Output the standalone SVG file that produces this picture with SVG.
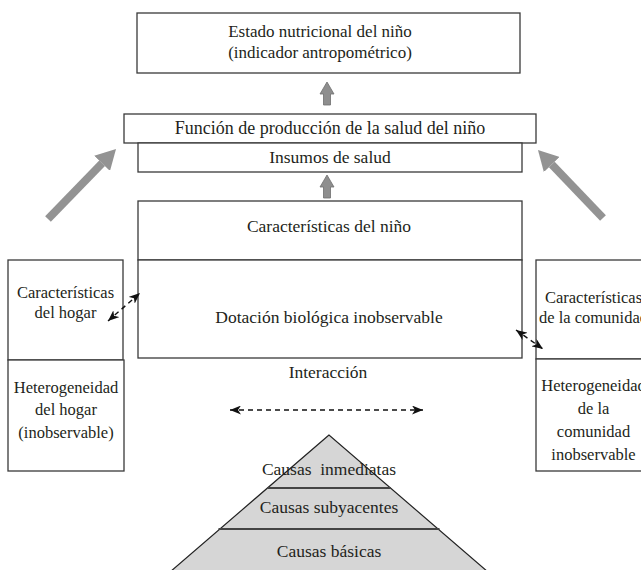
<svg xmlns="http://www.w3.org/2000/svg" width="641" height="570" viewBox="0 0 641 570">
<style>
.box{fill:#fff;stroke:#3a3a3a;stroke-width:1.3}
.t{font-family:"Liberation Serif","Times New Roman",serif;font-size:17.5px;fill:#231f20;text-anchor:middle}
.s{font-size:16.5px}
.big{stroke:#939393;stroke-width:8;fill:none}
.dash{stroke:#111;stroke-width:1.4;stroke-dasharray:5,4;fill:none}
.up{fill:#8e8e8e;stroke:#6f6f6f;stroke-width:0.8}
.pyr{fill:#d6d6d6;stroke:#222;stroke-width:1.2}
.lvl{stroke:#444;stroke-width:2}
</style>
<defs>
<marker id="bighead" markerUnits="userSpaceOnUse" viewBox="0 0 20 22" refX="0" refY="11" markerWidth="20" markerHeight="22" orient="auto">
<path d="M0,0 L20,11 L0,22 z" fill="#939393"/>
</marker>
<marker id="dh" markerUnits="userSpaceOnUse" viewBox="0 0 11 9" refX="11" refY="4.5" markerWidth="11" markerHeight="9" orient="auto-start-reverse">
<path d="M0,0 L11,4.5 L0,9 L3,4.5 z" fill="#111"/>
</marker>
</defs>

<g id="estado">
<rect class="box" x="137" y="13" width="383" height="60"/>
<text class="t" x="320" y="37" style="font-size:17px">Estado nutricional del niño</text>
<text class="t" x="320" y="58" style="font-size:17px">(indicador antropométrico)</text>
</g>

<g id="funcion">
<rect class="box" x="124" y="114" width="412" height="29"/>
<text class="t" x="330" y="134" style="font-size:18px">Función de producción de la salud del niño</text>
</g>

<g id="insumos">
<rect class="box" x="138" y="143" width="384" height="29"/>
<text class="t" x="330" y="163">Insumos de salud</text>
</g>

<g id="nino">
<rect class="box" x="138" y="201" width="384" height="59"/>
<text class="t" x="329" y="232">Características del niño</text>
</g>

<g id="dotacion">
<rect class="box" x="138" y="260" width="384" height="98"/>
<text class="t" x="329" y="323">Dotación biológica inobservable</text>
</g>

<g id="hogar">
<rect class="box" x="8" y="260" width="115" height="100"/>
<text class="t s" x="65.5" y="298">Características</text>
<text class="t s" x="65.5" y="318">del hogar</text>
</g>

<g id="het-hogar">
<rect class="box" x="8" y="360" width="116" height="111"/>
<text class="t s" x="66" y="393">Heterogeneidad</text>
<text class="t s" x="66" y="415">del hogar</text>
<text class="t s" x="66" y="438">(inobservable)</text>
</g>

<g id="comunidad">
<rect class="box" x="536" y="260" width="115" height="99"/>
<text class="t s" x="593.5" y="303">Características</text>
<text class="t s" x="593.5" y="323">de la comunidad</text>
</g>

<g id="het-comunidad">
<rect class="box" x="536" y="359" width="115" height="112"/>
<text class="t s" x="593.5" y="391">Heterogeneidad</text>
<text class="t s" x="593.5" y="414">de la</text>
<text class="t s" x="593.5" y="437">comunidad</text>
<text class="t s" x="593.5" y="460">inobservable</text>
</g>

<g id="interaccion">
<text class="t" x="328" y="378">Interacción</text>
</g>

<g id="piramide">
<polygon class="pyr" points="329,435 170,572 488,572"/>
<line class="lvl" x1="267" y1="488" x2="391" y2="488"/>
<line class="lvl" x1="218.5" y1="529" x2="439.5" y2="529"/>
<text class="t" x="329" y="475" xml:space="preserve">Causas  inmediatas</text>
<text class="t" x="329" y="513">Causas subyacentes</text>
<text class="t" x="329" y="557">Causas básicas</text>
</g>

<g id="connectors">
<line class="big" x1="48" y1="219" x2="102.1" y2="163.3" marker-end="url(#bighead)"/>
<line class="big" x1="603" y1="218" x2="551.8" y2="164.5" marker-end="url(#bighead)"/>
<polygon class="up" points="327,82 334,94 330.5,94 330.5,105 323.5,105 323.5,94 320,94"/>
<polygon class="up" points="327,175 334,187 330.5,187 330.5,198 323.5,198 323.5,187 320,187"/>
<line class="dash" x1="108" y1="321" x2="140" y2="293" marker-start="url(#dh)" marker-end="url(#dh)"/>
<line class="dash" x1="516" y1="330" x2="543" y2="349" marker-start="url(#dh)" marker-end="url(#dh)"/>
<line class="dash" x1="230" y1="410" x2="423" y2="410" marker-start="url(#dh)" marker-end="url(#dh)"/>
</g>
</svg>
